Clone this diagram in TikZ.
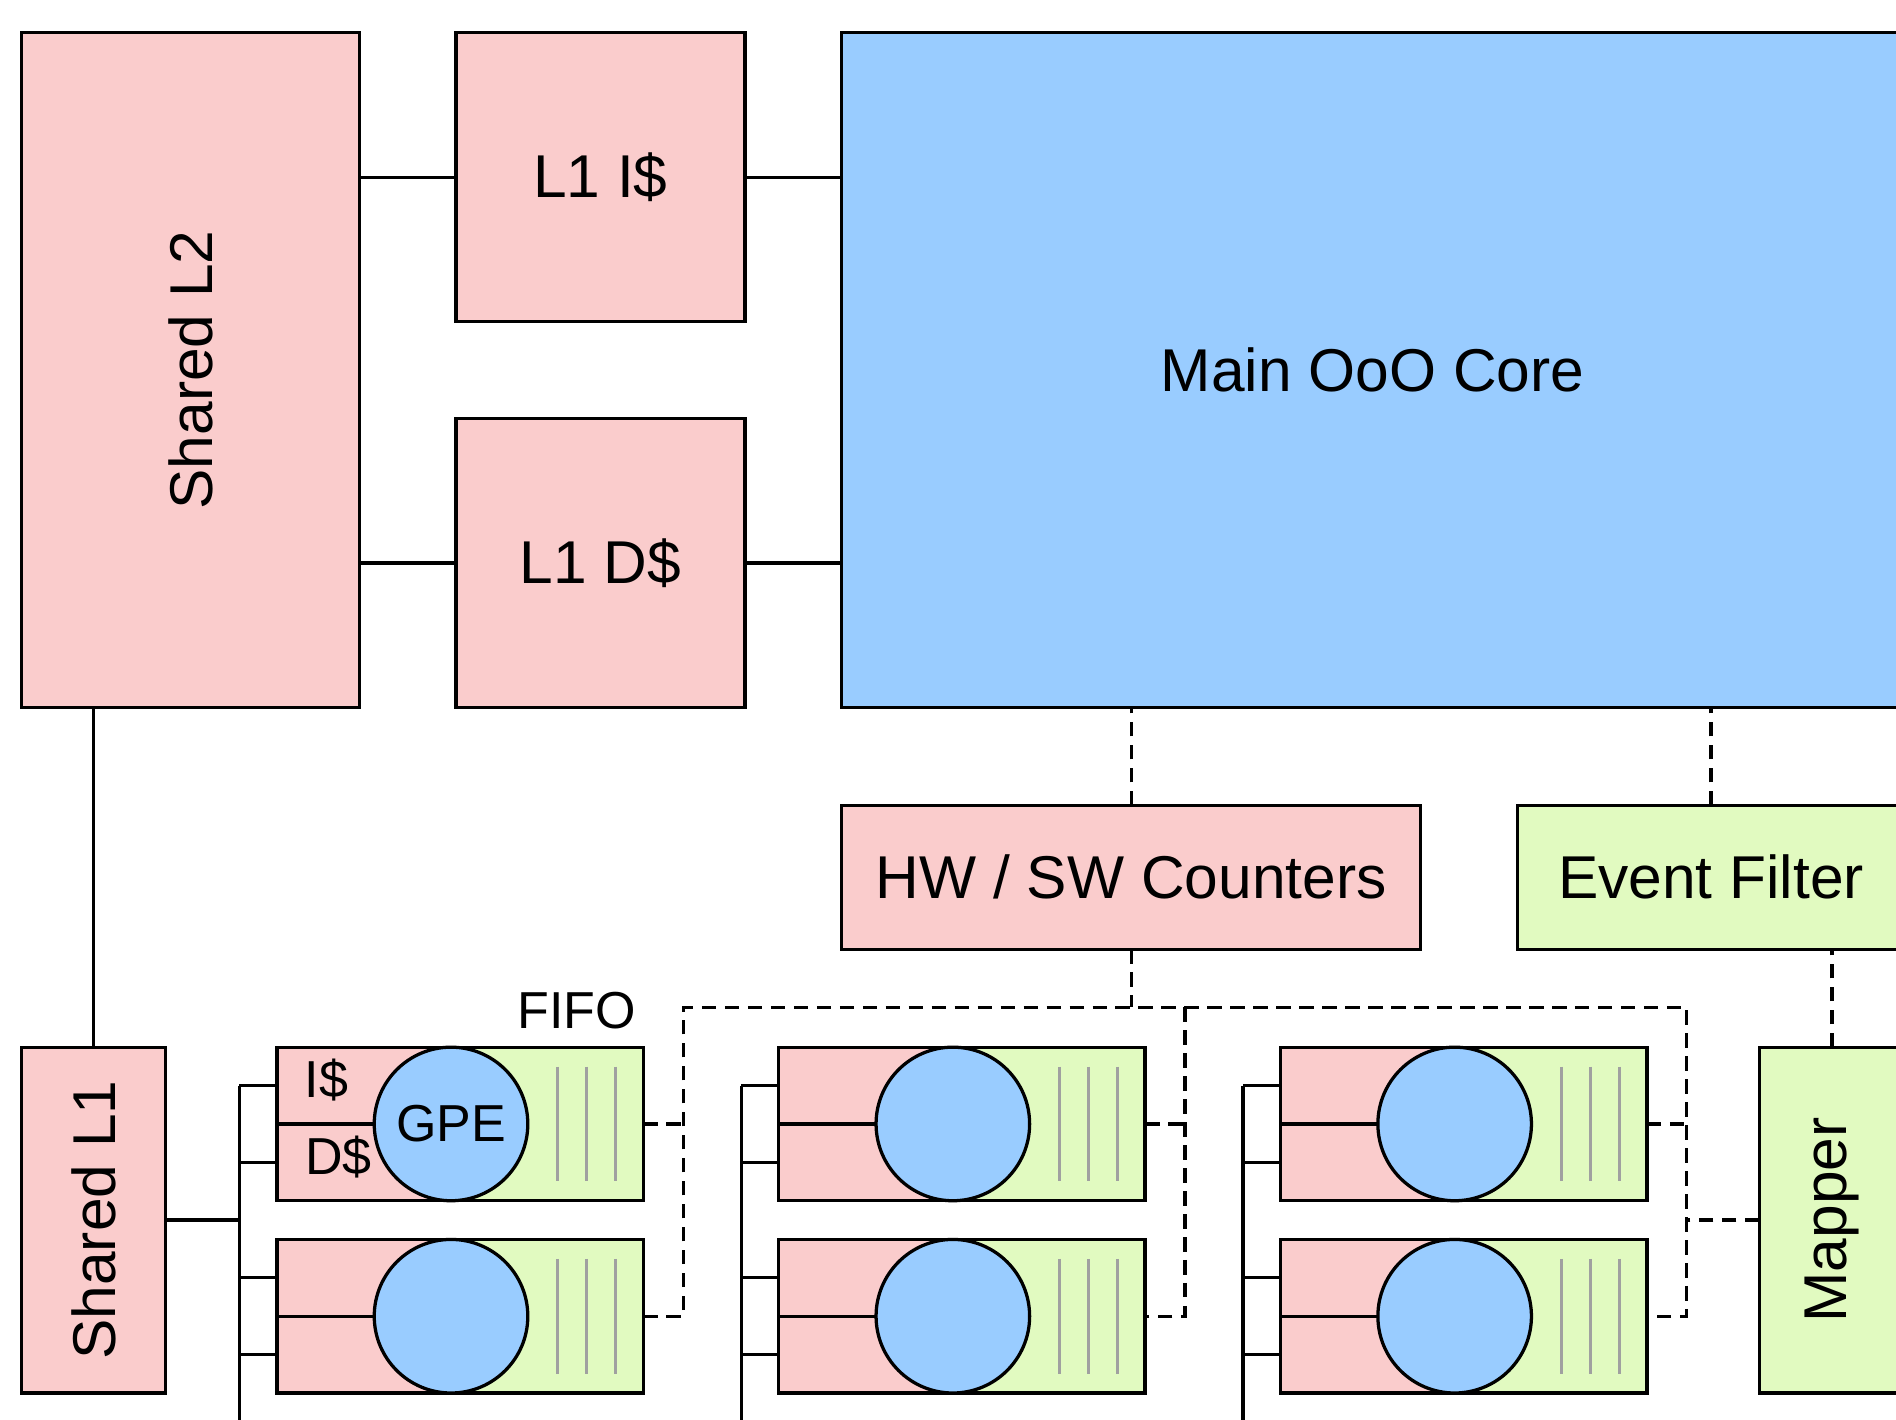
\documentclass[tikz,border=0pt]{standalone}
\usepackage{fontspec}
\usepackage{graphicx}
\setmainfont{Liberation Sans}
\usetikzlibrary{calc}
\definecolor{pinkc}{RGB}{250,204,204}
\definecolor{bluec}{RGB}{153,204,255}
\definecolor{greenc}{RGB}{225,250,192}
\definecolor{fifoc}{RGB}{160,160,160}
\begin{document}
\begin{tikzpicture}[x=0.5pt,y=-0.5pt,
  line width=1.35pt,
  box/.style={draw=black, inner sep=0pt, outer sep=0pt, font=\fontsize{25pt}{30pt}\selectfont},
  pinkbox/.style={box, fill=pinkc},
  bluebox/.style={box, fill=bluec},
  greenbox/.style={box, fill=greenc},
  unitbox/.style={draw=black, inner sep=0pt, outer sep=0pt, minimum width=151.5pt, minimum height=63.5pt},
  gpe/.style={circle, draw=black, fill=bluec, inner sep=0pt, outer sep=0pt, minimum size=63.5pt, font=\fontsize{21.5pt}{26pt}\selectfont},
  small/.style={inner sep=0pt, font=\fontsize{21.5pt}{26pt}\selectfont},
  dl/.style={dash pattern=on 6pt off 3.5pt},
  fifoline/.style={draw=fifoc, line width=1.2pt}]
\useasboundingbox (0,0) rectangle (1568,1174);
\clip (0,0) rectangle (1568,1174);

% top section
\node[pinkbox, minimum width=139.5pt, minimum height=279pt] (l2) at (157.5,306) {\rotatebox{90}{Shared L2}};
\node[pinkbox, minimum width=119.5pt, minimum height=119.5pt] (l1i) at (496.5,146.5) {L1 I\$};
\node[pinkbox, minimum width=119.5pt, minimum height=119.5pt] (l1d) at (496.5,465.5) {L1 D\$};
\node[bluebox, minimum width=439pt, minimum height=279pt] (core) at (1135,306) {Main OoO Core};
\node[pinkbox, minimum width=239.5pt, minimum height=59.5pt] (cnt) at (935.5,725.5) {HW / SW Counters};
\node[greenbox, minimum width=160pt, minimum height=59.5pt] (ef) at (1415,725.5) {Event Filter};
\node[greenbox, minimum width=60pt, minimum height=143pt] (map) at (1515,1009) {\rotatebox{90}{Mapper}};
\node[pinkbox, minimum width=59.5pt, minimum height=143pt] (sl1) at (77.5,1009) {\rotatebox{90}{Shared L1}};

\draw (l1i.west) -- (l1i.west -| l2.east);
\draw (l1d.west) -- (l1d.west -| l2.east);
\draw (l1i.east) -- (l1i.east -| core.west);
\draw (l1d.east) -- (l1d.east -| core.west);
\draw (sl1.north) -- (sl1.north |- l2.south);

\draw[dl] (cnt.north) -- (cnt.north |- core.south);
\draw[dl] (ef.north) -- (ef.north |- core.south);
\draw[dl] (map.north) -- (map.north |- ef.south);

% GPE units
\foreach \cx/\cl in {229/1,644/2,1059/3}{
  \coordinate (bus\cl) at ({\cx-31},0);
  \foreach \ry/\rw in {866/1,1025/2}{
    \fill[pinkc] (\cx,\ry) rectangle ({\cx+144},{\ry+127});
    \fill[greenc] ({\cx+144},\ry) rectangle ({\cx+303},{\ry+127});
    \foreach \d in {71,47,23}{
      \draw[fifoline] ({\cx+303-\d},{\ry+16}) -- ({\cx+303-\d},{\ry+111});
    }
    \node[unitbox] (u\cl\rw) at ({\cx+151.5},{\ry+63.5}) {};
    \node[gpe] (c\cl\rw) at ({\cx+144},{\ry+63.5}) {};
    \draw (u\cl\rw.west) -- (c\cl\rw.west);
    \coordinate (pa\cl\rw) at ($(u\cl\rw.north west)!0.25!(u\cl\rw.south west)$);
    \coordinate (pb\cl\rw) at ($(u\cl\rw.north west)!0.75!(u\cl\rw.south west)$);
    \draw (pa\cl\rw) -- (pa\cl\rw -| bus\cl);
    \draw (pb\cl\rw) -- (pb\cl\rw -| bus\cl);
  }
  \coordinate (busb\cl) at ({\cx-31},1180);
  \draw (pa\cl1 -| bus\cl) -- (busb\cl);
}
\draw (sl1.east) -- (sl1.east -| bus1);

% labels in first unit
\node[small] (ilab) at (270,893) {I\$};
\node[small] (dlab) at (280,957) {D\$};
\node[small] (gpelab) at (c11.center) {GPE};
\node[small] (fifolab) at (477,836) {FIFO};

% dashed network
\coordinate (j1) at (565,833);
\coordinate (j2) at (980,833);
\coordinate (j3) at (1395,833);
\draw[dl] (cnt.south) -- (cnt.south |- j1);
\draw[dl] (u12.east) -| (j1) -- (j3) |- (u32.east);
\draw[dl] (u11.east) -- (u11.east -| j1);
\draw[dl] (j2) |- (u22.east);
\draw[dl] (u21.east) -- (u21.east -| j2);
\draw[dl] (u31.east) -- (u31.east -| j3);
\draw[dl] (map.west) -- (map.west -| j3);
\end{tikzpicture}
\end{document}
